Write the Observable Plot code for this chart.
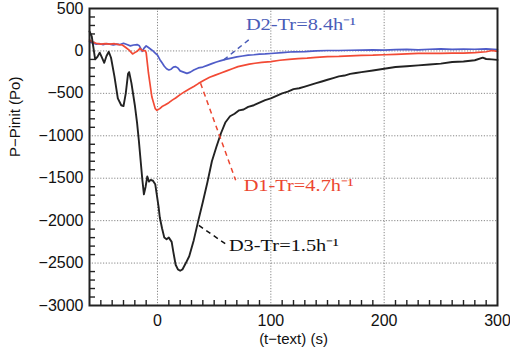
<!DOCTYPE html>
<html><head><meta charset="utf-8">
<script src="https://cdn.jsdelivr.net/npm/d3@7"></script>
<script src="https://cdn.jsdelivr.net/npm/@observablehq/plot@0.6"></script>
<style>html,body{margin:0;padding:0;background:#fff;}</style>
</head><body><div id="chart"></div>
<script>
// --- data ---
const blackT = [-60,-58,-55,-53,-51,-49,-47,-45,-43,-41,-38,-35,-32,-30,-28,-26,-25,-23,-20,-18,-16.5,-14.5,-13.5,-12,-10.5,-9,-7.5,-6,-4,-2,1,2,4,6,8,10,12.5,14,16,18,20,22,25,28,32,36,40,44,48,52,56,60,64,68,72,76,80,85,90,95,100,105,110,115,120,125,130,135,140,145,150,155,160,165,170,175,180,190,200,210,220,230,240,250,260,270,280,287,290,295,300];
const blackP = [230,170,-100,-70,-20,-80,-140,-60,-10,-80,-300,-560,-640,-650,-500,-270,-250,-380,-640,-850,-1050,-1350,-1500,-1690,-1600,-1480,-1540,-1520,-1530,-1570,-1840,-1960,-2090,-2200,-2220,-2200,-2250,-2370,-2520,-2575,-2590,-2575,-2500,-2420,-2230,-2000,-1780,-1550,-1300,-1130,-970,-840,-770,-740,-700,-690,-660,-640,-610,-580,-560,-530,-500,-480,-450,-440,-420,-400,-380,-360,-340,-320,-300,-290,-270,-260,-250,-230,-210,-190,-180,-170,-160,-150,-130,-125,-110,-80,-95,-100,-105];
const redT = [-60,-57,-54,-50,-46,-42,-38,-34,-31,-28,-25,-22,-20,-18,-15.5,-13,-11,-10,-8,-5,-2,-0.5,2,4,7,10,13,16,20,24,28,32,36,41,46,51,56,61,66,71,76,81,86,92,100,108,116,124,132,140,150,160,170,180,190,200,210,220,230,240,250,260,270,280,290,295,300];
const redP = [130,100,90,80,85,80,85,75,70,40,10,-35,-20,-5,30,0,5,-20,-260,-540,-680,-700,-680,-655,-635,-610,-580,-555,-515,-480,-450,-420,-385,-345,-310,-285,-260,-235,-210,-185,-170,-155,-145,-135,-125,-110,-100,-90,-85,-75,-68,-65,-58,-52,-50,-45,-40,-35,-30,-30,-28,-25,-25,-20,-10,5,-5];
const blueT = [-60,-57,-54,-51,-48,-45,-42,-39,-36,-33,-30,-27,-24,-21,-18,-16,-13.5,-12,-10,-8,-6,-4,-2,0,2,4,6,8,10,12,14,16,18,20,23,26,29,32,36,40,44,48,52,56,60,65,70,75,80,85,90,95,100,110,120,130,140,150,160,170,180,190,200,210,220,230,240,250,260,270,280,290,300];
const blueP = [110,95,80,85,75,85,80,70,80,75,90,75,60,70,75,60,-5,30,60,40,20,0,-25,-50,-100,-140,-180,-210,-225,-215,-190,-185,-200,-235,-250,-265,-250,-225,-200,-190,-170,-150,-130,-115,-100,-85,-70,-60,-50,-45,-38,-35,-30,-20,-10,-8,0,5,5,8,10,12,10,15,18,12,20,25,18,22,20,25,15];

const xTicks = [0,100,200,300];
const yTicks = [-3000,-2500,-2000,-1500,-1000,-500,0,500];
const xGrid = [0,100,200];
const yGrid = [-2500,-2000,-1500,-1000,-500,0];
const xMinor = d3.range(-50,300,10).filter(v => v % 100 !== 0);
const yMinor = d3.range(-2900,500,100).filter(v => v % 500 !== 0);

const labelText = ["D2-Tr=8.4h⁻¹","D1-Tr=4.7h⁻¹","D3-Tr=1.5h⁻¹"];
const labelX = [78,76,63];
const labelY = [307,-1584,-2293];
const labelColor = ["#4a5cb8","#ec4630","#111111"];
const leaderX1 = [80.5,38,36.5];
const leaderY1 = [130,-382,-2057];
const leaderX2 = [58.4,69,60];
const leaderY2 = [-106,-1525,-2273];

const xLabel = "(t−text) (s)";
const yLabel = "P−Pinit (Po)";

// --- build tables ---
const series = (t,p) => t.map((v,i)=>({t:v,p:p[i]}));
const black = series(blackT,blackP), red = series(redT,redP), blue = series(blueT,blueP);
const labels = labelText.map((s,i)=>({s,x:labelX[i],y:labelY[i],c:labelColor[i],x1:leaderX1[i],y1:leaderY1[i],x2:leaderX2[i],y2:leaderY2[i]}));
const fmt = d => d < 0 ? "−" + Math.abs(d) : String(d);

const W = 510, H = 351, mL = 89, mR = 13, mT = 8, mB = 46;

const chart = Plot.plot({
  width: W, height: H,
  marginLeft: mL, marginRight: mR, marginTop: mT, marginBottom: mB,
  x: {domain: [-60,300]},
  y: {domain: [-3000,500]},
  style: {fontFamily: "'Liberation Sans', Arial, sans-serif", fontSize: "16px", color: "#111", background: "#fff"},
  marks: [
    Plot.gridX(xGrid, {stroke: "#888", strokeOpacity: 1, strokeDasharray: "1.2,1.6"}),
    Plot.gridY(yGrid, {stroke: "#888", strokeOpacity: 1, strokeDasharray: "1.2,1.6"}),
    Plot.tickX(xMinor, {x: d => d, stroke: "#222", strokeWidth: 1.4, insetTop: H - mT - mB - 5}),
    Plot.tickY(yMinor, {y: d => d, stroke: "#222", strokeWidth: 1.4, insetRight: W - mL - mR - 6}),
    Plot.line(blue, {x: "t", y: "p", stroke: "#4f5cc8", strokeWidth: 1.7}),
    Plot.line(red, {x: "t", y: "p", stroke: "#f24a35", strokeWidth: 1.7}),
    Plot.line(black, {x: "t", y: "p", stroke: "#222", strokeWidth: 1.9}),
    Plot.link(labels, {x1: "x1", y1: "y1", x2: "x2", y2: "y2", stroke: "c", strokeWidth: 1.5, strokeDasharray: "5,4"}),
    Plot.text(labels, {x: "x", y: "y", text: "s", fill: "c", textAnchor: "start", fontSize: 17, fontFamily: "'Liberation Serif', 'Times New Roman', serif"}),
    Plot.frame({stroke: "#222", strokeWidth: 2}),
    Plot.axisY(yTicks, {tickSize: 0, tickPadding: 6, fontSize: 16, tickFormat: fmt, label: null}),
    Plot.axisX(xTicks, {tickSize: 0, tickPadding: 9, fontSize: 16, tickFormat: fmt, label: null}),
    Plot.text([xLabel], {frameAnchor: "bottom", dy: 38, fontSize: 15, fill: "#111"}),
    Plot.text([yLabel], {frameAnchor: "left", dx: -74, rotate: -90, fontSize: 15, fill: "#111"})
  ]
});

// widen annotation glyphs like the reference
d3.select(chart).selectAll("text").filter(function(){ return /Tr=/.test(this.textContent); })
  .each(function(){
    const tr = this.getAttribute("transform");
    if (tr) this.setAttribute("transform", tr + " scale(1.2,1)");
  });

document.getElementById("chart").appendChild(chart);
</script>
</body></html>
